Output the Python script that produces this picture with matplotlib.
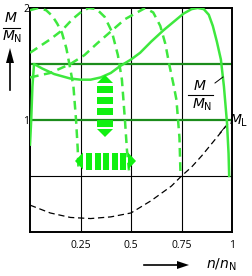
import numpy as np
import matplotlib
matplotlib.use("Agg")
import matplotlib.pyplot as plt
from matplotlib.patches import Polygon, Rectangle

plt.rcParams['font.family'] = ['Open Sans', 'DejaVu Sans']
plt.rcParams['mathtext.fontset'] = 'dejavusans'

# motor curve (solid), full frequency
motor_x = [0.0, 0.006, 0.012, 0.02, 0.06, 0.12, 0.2, 0.25, 0.3, 0.35, 0.4, 0.445, 0.5, 0.545,
           0.6, 0.66, 0.72, 0.76, 0.8, 0.83, 0.86, 0.885, 0.905, 0.925, 0.945, 0.96, 0.975, 0.983, 0.986]
motor_y = [0.78, 1.0, 1.3, 1.5, 1.46, 1.41, 1.37, 1.36, 1.36, 1.38, 1.42, 1.48, 1.54, 1.6,
           1.7, 1.8, 1.89, 1.95, 1.99, 2.0, 1.99, 1.94, 1.84, 1.7, 1.54, 1.3, 0.98, 0.7, 0.5]

# reduced frequency curves (dashed): 0.25, 0.5, 0.75
f25_x = [0.0, 0.04, 0.08, 0.11, 0.135, 0.158, 0.18, 0.198, 0.215, 0.228, 0.236, 0.24]
f25_y = [1.98, 2.0, 1.98, 1.93, 1.86, 1.78, 1.64, 1.47, 1.3, 1.0, 0.75, 0.55]
f50_x = [0.0, 0.05, 0.1, 0.158, 0.21, 0.25, 0.29, 0.33, 0.37, 0.405, 0.435, 0.455, 0.47, 0.48, 0.49]
f50_y = [1.6, 1.66, 1.72, 1.8, 1.9, 1.96, 2.0, 1.99, 1.92, 1.79, 1.58, 1.36, 1.0, 0.73, 0.55]
f75_x = [0.0, 0.1, 0.2, 0.27, 0.33, 0.4, 0.47, 0.53, 0.57, 0.61, 0.645, 0.67, 0.69, 0.71, 0.725, 0.74, 0.745]
f75_y = [1.38, 1.42, 1.5, 1.58, 1.68, 1.79, 1.9, 1.96, 2.0, 1.96, 1.84, 1.68, 1.49, 1.32, 1.18, 0.84, 0.52]

# load torque M_L (black dashed)
load_x = [0.0, 0.1, 0.2, 0.3, 0.4, 0.5, 0.6, 0.7, 0.75, 0.8, 0.85, 0.9, 0.95, 0.985]
load_y = [0.24, 0.17, 0.13, 0.12, 0.135, 0.17, 0.28, 0.41, 0.5, 0.58, 0.68, 0.79, 0.9, 0.98]

x_ticks = [0.25, 0.5, 0.75, 1]
x_labels = ['0.25', '0.5', '0.75', '1']

W, H = 252, 276
GREEN = '#3ee83e'
ARROW = '#10f010'

fig = plt.figure(figsize=(W / 100, H / 100), dpi=100)
ax = fig.add_axes([30 / W, 44 / H, 202 / W, 224 / H])
ax.set_xlim(0, 1)
ax.set_ylim(0, 2)
ax.set_xticks([])
ax.set_yticks([])
for s in ax.spines.values():
    s.set_linewidth(1.4)

for xv in [0.25, 0.5, 0.75]:
    ax.axvline(xv, color='black', lw=0.8, zorder=1)
ax.axhline(0.5, color='black', lw=0.8, zorder=1)
ax.axhline(1.5, color='#1c8c1c', lw=1.6, zorder=1)
ax.axhline(1.0, color='#1c8c1c', lw=1.6, zorder=1)

ax.plot(load_x, load_y, color='black', lw=0.9, dashes=(5, 3), zorder=2)
for xs, ys in [(f25_x, f25_y), (f50_x, f50_y), (f75_x, f75_y)]:
    ax.plot(xs, ys, color=GREEN, lw=1.8, dashes=(3.5, 2.2), zorder=3)
ax.plot(motor_x, motor_y, color=GREEN, lw=1.8, zorder=4)


# pixel -> data helpers for the decorative block arrows
def dx(px):
    return (px - 30) / 202


def dy(py):
    return (232 - py) / 112


# vertical striped double arrow
xl, xr = dx(97), dx(113)
ax.add_patch(Polygon([[xl, dy(83)], [xr, dy(83)], [(xl + xr) / 2, dy(75)]], color=ARROW, lw=0, zorder=5))
for top, bot in [(86, 93), (97, 104), (108, 115), (120, 127)]:
    ax.add_patch(Rectangle((xl, dy(bot)), xr - xl, dy(top) - dy(bot), color=ARROW, lw=0, zorder=5))
ax.add_patch(Polygon([[xl, dy(129)], [xr, dy(129)], [(xl + xr) / 2, dy(137)]], color=ARROW, lw=0, zorder=5))

# horizontal striped double arrow
yt, yb = dy(152.5), dy(169.5)
ax.add_patch(Polygon([[dx(83), yt], [dx(83), yb], [dx(75), (yt + yb) / 2]], color=ARROW, lw=0, zorder=5))
for l, r in [(86, 92), (94.5, 100.5), (103, 109), (111.5, 117.5), (120, 126)]:
    ax.add_patch(Rectangle((dx(l), yb), dx(r) - dx(l), yt - yb, color=ARROW, lw=0, zorder=5))
ax.add_patch(Polygon([[dx(128), yt], [dx(128), yb], [dx(136), (yt + yb) / 2]], color=ARROW, lw=0, zorder=5))


def fx(px):
    return px / W


def fy(py):
    return 1 - py / H


# tick labels
for v, lab in zip(x_ticks, x_labels):
    fig.text(fx(30 + v * 202), fy(246), lab, ha='center', va='center', fontsize=7.5)
fig.text(fx(29), fy(10), '2', ha='right', va='center', fontsize=7.5)
fig.text(fx(29), fy(121), '1', ha='right', va='center', fontsize=7.5)

# y axis label M/M_N with arrow
fig.text(fx(11), fy(18), r'$M$', ha='center', va='center', fontsize=10)
fig.add_artist(plt.Line2D([fx(3), fx(20)], [fy(28), fy(28)], color='black', lw=0.8))
fig.text(fx(12), fy(37), r'$M_\mathrm{N}$', ha='center', va='center', fontsize=10)
fig.add_artist(plt.Line2D([fx(10), fx(10)], [fy(90), fy(62)], color='black', lw=1.2))
fig.add_artist(Polygon([[fx(6), fy(63)], [fx(14), fy(63)], [fx(10), fy(48)]], color='black', lw=0,
                       transform=fig.transFigure))

# x axis label with arrow
fig.text(fx(221), fy(265), r'$n/n_\mathrm{N}$', ha='center', va='center', fontsize=10)
fig.add_artist(plt.Line2D([fx(144), fx(178)], [fy(265), fy(265)], color='black', lw=1.2))
fig.add_artist(Polygon([[fx(177), fy(261)], [fx(177), fy(269)], [fx(189), fy(265)]], color='black', lw=0,
                       transform=fig.transFigure))

# M/M_N curve label
fig.text(fx(200), fy(86), r'$M$', ha='center', va='center', fontsize=10)
fig.add_artist(plt.Line2D([fx(188), fx(213)], [fy(95), fy(95)], color='black', lw=0.8))
fig.text(fx(202), fy(105), r'$M_\mathrm{N}$', ha='center', va='center', fontsize=10)
fig.add_artist(plt.Line2D([fx(215), fx(223)], [fy(83), fy(77)], color='black', lw=0.7))

# M_L label
fig.text(fx(229), fy(121), r'$M_\mathrm{L}$', ha='left', va='center', fontsize=10)
fig.add_artist(plt.Line2D([fx(220), fx(225)], [fy(133), fy(127)], color='black', lw=0.7))

fig.savefig('out.png', dpi=100)
